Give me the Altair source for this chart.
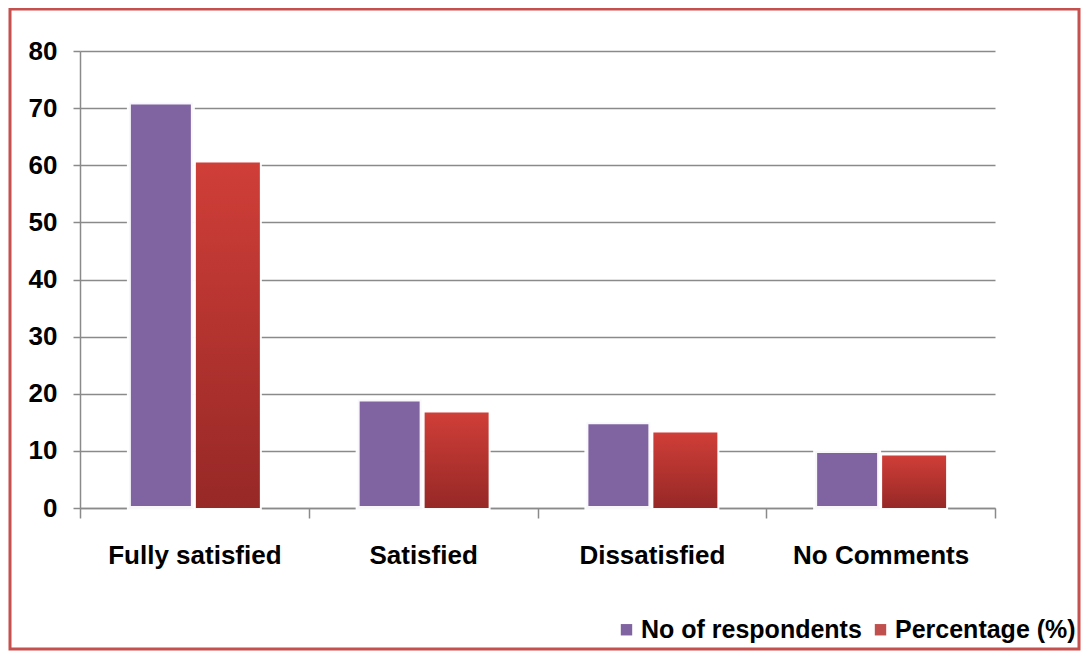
import altair as alt
import pandas as pd

categories = ["Fully satisfied", "Satisfied", "Dissatisfied", "No Comments"]
respondents = [71, 19, 15, 10]
percentage = [60.5, 16.7, 13.2, 9.2]
series = ["No of respondents", "Percentage (%)"]
colors = ["#8064A2", "#C0504D"]
y_ticks = [0, 10, 20, 30, 40, 50, 60, 70, 80]

rows = []
for c, r, p in zip(categories, respondents, percentage):
    rows.append({"category": c, "series": series[0], "value": r})
    rows.append({"category": c, "series": series[1], "value": p})
df = pd.DataFrame(rows)

FONT = "Liberation Sans, Arial"
GRID = "#8a8a8a"

x_enc = alt.X(
    "category:N", sort=categories,
    scale=alt.Scale(paddingInner=0, paddingOuter=0),
    axis=alt.Axis(title=None, labelAngle=0, tickBand="extent", tickSize=10,
                  tickColor=GRID, tickWidth=1.5, domainColor=GRID, domainWidth=1.5,
                  labelFont=FONT, labelFontSize=26, labelFontWeight="bold",
                  labelColor="#000000", labelPadding=24, labelLimit=0, grid=False),
)
xo_enc = alt.XOffset("series:N", sort=series,
                     scale=alt.Scale(domain=series, paddingInner=0.045, paddingOuter=0.73))
y_enc = alt.Y(
    "value:Q", scale=alt.Scale(domain=[0, 80], nice=False),
    axis=alt.Axis(title=None, values=y_ticks, tickSize=7, tickColor=GRID, tickWidth=1.5,
                  domainColor=GRID, domainWidth=1.5, gridColor=GRID, gridWidth=1.5,
                  labelFont=FONT, labelFontSize=26, labelFontWeight="bold",
                  labelColor="#000000", labelPadding=16),
)

base = alt.Chart(df).mark_bar(stroke="white", strokeWidth=4, strokeOpacity=0.95).encode(
    x=x_enc, xOffset=xo_enc, y=y_enc,
    color=alt.Color("series:N", sort=series,
                    scale=alt.Scale(domain=series, range=colors),
                    legend=alt.Legend(title=None, orient="none", legendX=534, legendY=566,
                                      direction="horizontal", symbolType="square",
                                      symbolSize=130, symbolStrokeWidth=0,
                                      labelFont=FONT, labelFontSize=25,
                                      labelFontWeight="bold", labelColor="#000000",
                                      labelLimit=0, columnPadding=6, symbolOffset=0,
                                      labelOffset=2)),
)

red = alt.Chart(df).transform_filter(alt.datum.series == series[1]).mark_bar(
    fill=alt.Gradient(gradient="linear", x1=0, y1=0, x2=0, y2=1,
                      stops=[alt.GradientStop(color="#D03E38", offset=0),
                             alt.GradientStop(color="#962826", offset=1)])
).encode(x=x_enc, xOffset=xo_enc, y=y_enc)

border = alt.Chart(alt.Data(values=[{"a": 1}])).mark_rect(
    fill="transparent", stroke="#C5504D", strokeWidth=3, clip=False
).encode(x=alt.value(-70), x2=alt.value(999), y=alt.value(-42), y2=alt.value(598))

chart = alt.layer(border, base, red).properties(
    width=915, height=457,
    autosize=alt.AutoSizeParams(type="none"),
    padding={"left": 72, "top": 43, "right": 86, "bottom": 144},
).configure_view(stroke=None)

chart.save("out.html", embed_options={"renderer": "svg", "actions": False})
